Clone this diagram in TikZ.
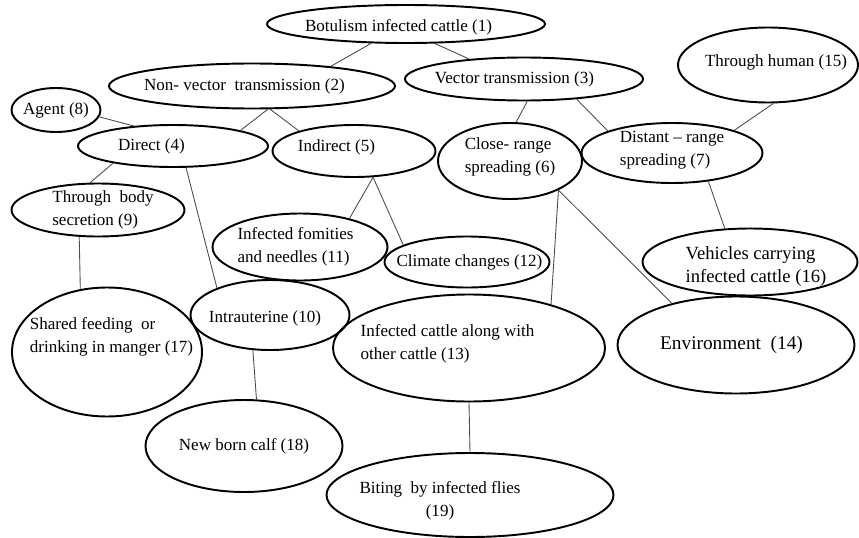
\documentclass[tikz,border=0pt]{standalone}
\usepackage{fontspec}
\setmainfont{Liberation Serif}
\usetikzlibrary{shapes.geometric}
\newcommand{\ovfont}{\fontsize{9.7}{13}\selectfont}

\begin{document}
\begin{tikzpicture}[
  oval/.style={ellipse, draw=black, line width=1.1pt, inner sep=0pt},
  lbl/.style={font=\ovfont, align=left, inner sep=0pt},
  link/.style={draw=black!70, line width=0.5pt}]
  \useasboundingbox (0,0) rectangle (17.18,-10.74);
  % top
  \node[oval, minimum width=5.56cm, minimum height=0.76cm,
        label={[lbl, xshift=-1.5mm, yshift=-0.6mm]center:Botulism infected cattle (1)}] (top) at (8.12,-0.48) {};
  % two routes
  \node[oval, minimum width=5.72cm, minimum height=0.90cm,
        label={[lbl, xshift=-1.5mm]center:Non- vector\ \ transmission (2)}] (nonvec) at (5.04,-1.72) {};
  \node[oval, minimum width=4.76cm, minimum height=0.86cm,
        label={[lbl, xshift=-1.9mm]center:Vector transmission (3)}] (vec) at (10.48,-1.58) {};
  % non-vector branch
  \node[oval, minimum width=1.78cm, minimum height=0.88cm,
        label={[lbl]center:Agent (8)}] (agent) at (1.12,-2.20) {};
  \node[oval, minimum width=3.80cm, minimum height=0.84cm,
        label={[lbl, xshift=-4.3mm]center:Direct (4)}] (direct) at (3.46,-2.92) {};
  \node[oval, minimum width=3.26cm, minimum height=1.04cm,
        label={[lbl, xshift=-3.5mm, yshift=0.8mm]center:Indirect (5)}] (indirect) at (7.08,-3.02) {};
  \node[oval, minimum width=3.46cm, minimum height=1.06cm,
        label={[lbl, xshift=1mm]center:{Through\ \ body\\secretion (9)}}] (body) at (1.96,-4.20) {};
  \node[oval, minimum width=3.50cm, minimum height=1.34cm,
        label={[lbl, xshift=-0.9mm]center:{Infected fomities\\and needles (11)}}] (fomite) at (6.00,-4.94) {};
  \node[oval, minimum width=3.30cm, minimum height=1.02cm,
        label={[lbl, xshift=0.5mm]center:Climate changes (12)}] (climate) at (9.34,-5.24) {};
  \node[oval, minimum width=3.18cm, minimum height=1.40cm,
        label={[lbl, xshift=-1mm, yshift=-0.6mm]center:Intrauterine (10)}] (uterine) at (5.40,-6.30) {};
  \node[oval, minimum width=3.80cm, minimum height=2.58cm,
        label={[lbl, xshift=0.9mm, yshift=3mm]center:{Shared feeding\ \ or\\drinking in manger (17)}}] (manger) at (2.14,-7.04) {};
  \node[oval, minimum width=3.94cm, minimum height=1.84cm,
        label={[lbl]center:New born calf (18)}] (calf) at (4.88,-8.92) {};
  % vector branch
  \node[oval, minimum width=2.88cm, minimum height=1.52cm,
        label={[lbl, yshift=0.8mm]center:{Close- range\\spreading (6)}}] (close) at (10.20,-3.22) {};
  \node[oval, minimum width=3.62cm, minimum height=1.20cm,
        label={[lbl, yshift=0.5mm]center:{Distant -- range\\spreading (7)}}] (distant) at (13.44,-3.06) {};
  \node[oval, minimum width=3.60cm, minimum height=1.50cm,
        label={[lbl, xshift=1.6mm, yshift=0.6mm]center:Through human (15)}] (human) at (15.36,-1.30) {};
  \node[oval, minimum width=4.30cm, minimum height=1.34cm,
        label={[lbl, font=\fontsize{10.6}{13}\selectfont, xshift=1.2mm, yshift=-0.9mm]center:{Vehicles carrying\\infected cattle (16)}}] (vehicle) at (15.00,-5.24) {};
  \node[oval, minimum width=5.44cm, minimum height=2.14cm,
        label={[lbl, xshift=-4.3mm, yshift=0.8mm]center:{Infected cattle along with\\other cattle (13)}}] (herd) at (9.38,-6.96) {};
  \node[oval, minimum width=4.74cm, minimum height=1.94cm,
        label={[lbl, font=\fontsize{11}{13}\selectfont, xshift=-0.9mm]center:Environment\ \ (14)}] (env) at (14.72,-6.90) {};
  \node[oval, minimum width=5.74cm, minimum height=1.68cm,
        label={[lbl, align=center, xshift=-6mm, yshift=-1.2mm]center:{Biting\ \ by infected flies\\(19)}}] (flies) at (9.40,-9.90) {};
  % links
  \draw[link] (top.-151) -- (nonvec.14);
  \draw[link] (top.-34) -- (vec.160);
  \draw[link] (nonvec.-56) -- (direct.13);
  \draw[link] (nonvec.-52) -- (indirect.160);
  \draw[link] (agent.-9) -- (direct.153);
  \draw[link] (direct.-164) -- (body.106);
  \draw[link] (direct.-59) -- (uterine.153);
  \draw[link] (indirect.-54) -- (fomite.30);
  \draw[link] (indirect.-54) -- (climate.165);
  \draw[link] (body.-125) -- (manger.113);
  \draw[link] (uterine.-116) -- (calf.75);
  \draw[link] (vec.-82) -- (close.81);
  \draw[link] (vec.-21) -- (distant.161);
  \draw[link] (human.-82) -- (distant.20);
  \draw[link] (distant.-38) -- (vehicle.127);
  \draw[link] (close.-31) -- (herd.28);
  \draw[link] (close.-31) -- (env.147);
  \draw[link] (herd.south) -- (flies.north);
\end{tikzpicture}
\end{document}
